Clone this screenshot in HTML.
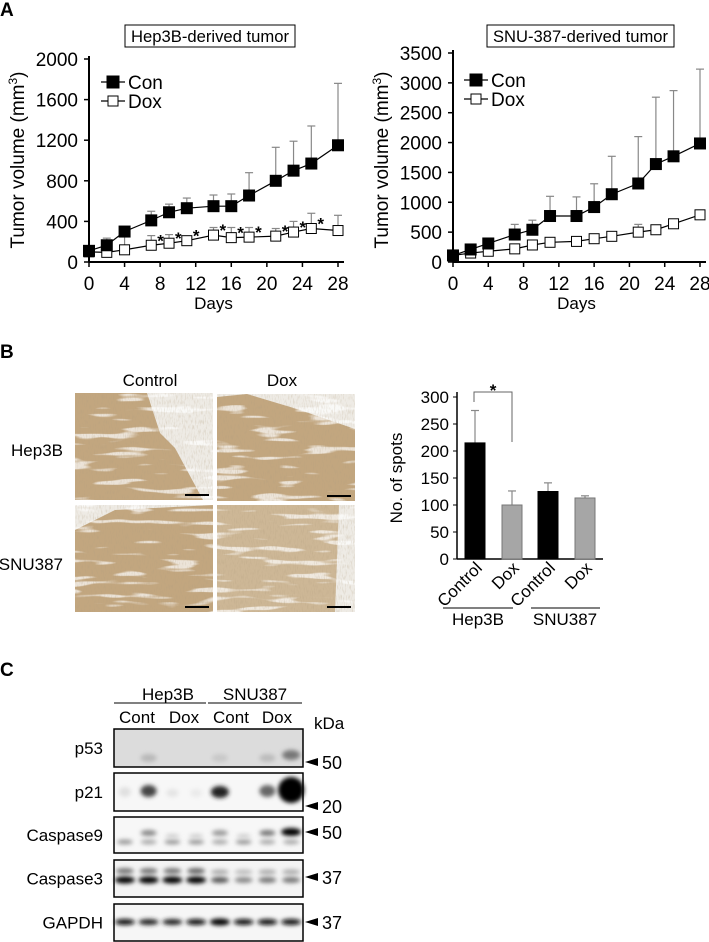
<!DOCTYPE html>
<html><head><meta charset="utf-8">
<style>
body{margin:0;background:#fff;}
svg{display:block;font-family:"Liberation Sans",Arial,sans-serif;}
</style></head>
<body>
<svg id="fig" width="709" height="942" viewBox="0 0 709 942" xmlns="http://www.w3.org/2000/svg">
<defs>
<filter id="blur" x="-50%" y="-100%" width="200%" height="300%"><feGaussianBlur stdDeviation="2.2"/></filter>
<filter id="noise" x="0" y="0" width="1" height="1"><feTurbulence type="fractalNoise" baseFrequency="0.9 0.2" numOctaves="2" seed="3"/><feColorMatrix type="matrix" values="0 0 0 0 0.45  0 0 0 0 0.35  0 0 0 0 0.22  0 0 0 -2.5 1.3"/></filter>
<filter id="streak" x="0" y="0" width="1" height="1"><feTurbulence type="fractalNoise" baseFrequency="0.02 0.15" numOctaves="2" seed="7"/><feColorMatrix type="matrix" values="0 0 0 0 1  0 0 0 0 1  0 0 0 0 1  0 0 0 9 -5.2"/></filter>
</defs>
<text x="0" y="16" font-size="19" font-weight="bold">A</text>
<text x="0" y="358" font-size="19" font-weight="bold">B</text>
<text x="0" y="676" font-size="19" font-weight="bold">C</text>
<g id="chartL"></g>
<g id="chartR"></g>
<g id="bars"></g>
<g id="micro"></g>
<g id="blot"></g>
</svg>
<script>
const days=[0,2,4,7,9,11,14,16,18,21,23,25,28];
const hepCon=[110,165,300,410,490,530,550,550,655,800,900,970,1150];
const hepConErr=[20,70,0,90,80,100,110,120,225,330,290,370,610];
const hepDox=[100,95,120,165,185,210,265,240,245,255,295,330,310];
const hepDoxErr=[15,45,130,95,85,30,75,100,95,75,105,150,150];
const hepStars=[0,0,0,1,1,1,1,1,1,1,1,1,0];
const snuCon=[110,210,310,460,540,770,770,920,1135,1315,1640,1770,1985];
const snuConErr=[20,40,60,170,160,330,320,390,635,785,1120,1100,1245];
const snuDox=[110,150,180,220,285,330,345,390,430,500,540,640,790];
const snuDoxErr=[10,20,20,30,30,60,40,70,30,130,40,40,20];
const hepYTicks=[0,400,800,1200,1600,2000];
const snuYTicks=[0,500,1000,1500,2000,2500,3000,3500];
const xTicks=[0,4,8,12,16,20,24,28];
const barCats=["Control","Dox","Control","Dox"];
const barVals=[215,100,125,113];
const barErrs=[60,26,16,4];
const barTicks=[0,50,100,150,200,250,300];
const NS="http://www.w3.org/2000/svg";
function mk(p,t,a,txt){const e=document.createElementNS(NS,t);for(const k in a)e.setAttribute(k,a[k]);if(txt!==undefined)e.textContent=txt;p.appendChild(e);return e;}

function lineChart(g,o){
  const sx=d=>o.x0+(o.x1-o.x0)*d/28, sy=v=>o.y0-(o.y0-o.y1)*v/o.ymax;
  const tb=mk(g,'rect',{x:o.tx,y:25,width:o.tw,height:22,fill:'#fff',stroke:'#000','stroke-width':1});
  
  const tt=mk(g,'text',{x:o.tx+o.tw/2,y:42,'font-size':17,'text-anchor':'middle',textLength:o.tw-12,lengthAdjust:'spacingAndGlyphs'},o.title);
  
  mk(g,'line',{x1:o.x0,y1:o.y1-3,x2:o.x0,y2:o.y0,stroke:'#000','stroke-width':2});
  mk(g,'line',{x1:o.x0,y1:o.y0,x2:o.x1+6,y2:o.y0,stroke:'#000','stroke-width':2});
  o.yt.forEach(v=>{mk(g,'line',{x1:o.x0-5,y1:sy(v),x2:o.x0,y2:sy(v),stroke:'#000','stroke-width':1.5});
    const t=mk(g,'text',{x:o.x0-11,y:sy(v)+7,'font-size':19,'text-anchor':'end'},v);
    });
  xTicks.forEach(v=>{mk(g,'line',{x1:sx(v),y1:o.y0,x2:sx(v),y2:o.y0+5,stroke:'#000','stroke-width':1.5});
    const t=mk(g,'text',{x:sx(v),y:o.y0+28,'font-size':19,'text-anchor':'middle'},v);
    });
  const xl=mk(g,'text',{x:(o.x0+o.x1)/2,y:o.y0+47,'font-size':17,'text-anchor':'middle'},'Days');
  
  const yl=mk(g,'text',{x:o.ylx,y:160,'font-size':19,'text-anchor':'middle',transform:`rotate(-90 ${o.ylx} 160)`});
  yl.innerHTML='Tumor volume (mm<tspan font-size="12" dy="-7">3</tspan><tspan dy="7">)</tspan>';
  
  [[o.con,o.conE],[o.dox,o.doxE]].forEach(([vals,errs])=>{
    days.forEach((d,i)=>{if(!errs[i])return;const x=sx(d);
      mk(g,'line',{x1:x,y1:sy(vals[i]),x2:x,y2:sy(vals[i]+errs[i]),stroke:'#888','stroke-width':1.2});
      mk(g,'line',{x1:x-4,y1:sy(vals[i]+errs[i]),x2:x+4,y2:sy(vals[i]+errs[i]),stroke:'#888','stroke-width':1.2});});});
  const pd=v=>days.map((d,i)=>sx(d)+','+sy(v[i])).join(' ');
  mk(g,'polyline',{points:pd(o.con),fill:'none',stroke:'#000','stroke-width':1.2});
  mk(g,'polyline',{points:pd(o.dox),fill:'none',stroke:'#000','stroke-width':1.2});
  days.forEach((d,i)=>{
    const r=mk(g,'rect',{x:sx(d)-5,y:sy(o.dox[i])-5,width:10,height:10,fill:'#fff',stroke:'#000','stroke-width':1});
    
    const c=mk(g,'rect',{x:sx(d)-6,y:sy(o.con[i])-6,width:12,height:12,fill:'#000'});
    
    if(o.stars&&o.stars[i]){const s=mk(g,'text',{x:sx(d)+6,y:sy(o.dox[i])+1,'font-size':17,'font-weight':'bold'},'*');
      }
  });
  [['Con','#000',o.ly],['Dox','#fff',o.ly+19]].forEach(([n,f,y])=>{
    const lg=mk(g,'g',{});
    mk(lg,'line',{x1:o.lx,y1:y,x2:o.lx+24,y2:y,stroke:'#000','stroke-width':1.2});
    mk(lg,'rect',{x:o.lx+12-(f=='#000'?6:5),y:y-(f=='#000'?6:5),width:f=='#000'?12:10,height:f=='#000'?12:10,fill:f,stroke:'#000'});
    mk(lg,'text',{x:o.lx+27,y:y+7,'font-size':19},n);});
}
lineChart(document.getElementById('chartL'),{x0:89,x1:338,y0:262,y1:59,ymax:2000,yt:hepYTicks,con:hepCon,conE:hepConErr,dox:hepDox,doxE:hepDoxErr,stars:hepStars,title:'Hep3B-derived tumor',tx:125,tw:170,ylx:24,lx:101,ly:82});
lineChart(document.getElementById('chartR'),{x0:453,x1:700,y0:262,y1:53,ymax:3500,yt:snuYTicks,con:snuCon,conE:snuConErr,dox:snuDox,doxE:snuDoxErr,stars:null,title:'SNU-387-derived tumor',tx:487,tw:187,ylx:388,lx:464,ly:80});

(function(){
  const g=document.getElementById('bars');const x0=457,y0=559,y1=397,ymax=300;
  const sy=v=>y0-(y0-y1)*v/ymax;const cx=[475,512,548,585];
  mk(g,'line',{x1:x0,y1:y1-5,x2:x0,y2:y0,stroke:'#000','stroke-width':1.5});
  mk(g,'line',{x1:x0,y1:y0,x2:603,y2:y0,stroke:'#000','stroke-width':1.5});
  barTicks.forEach(v=>{mk(g,'line',{x1:x0-4,y1:sy(v),x2:x0,y2:sy(v),stroke:'#000'});
    const t=mk(g,'text',{x:x0-8,y:sy(v)+6,'font-size':17,'text-anchor':'end'},v);
    });
  const yl=mk(g,'text',{x:402,y:478,'font-size':17,'text-anchor':'middle',transform:'rotate(-90 402 478)'},'No. of spots');
  
  barVals.forEach((v,i)=>{
    const top=sy(v+barErrs[i]);
    mk(g,'line',{x1:cx[i],y1:sy(v),x2:cx[i],y2:top,stroke:'#888','stroke-width':1.2});
    mk(g,'line',{x1:cx[i]-4,y1:top,x2:cx[i]+4,y2:top,stroke:'#888','stroke-width':1.2});
    const b=mk(g,'rect',{x:cx[i]-10,y:sy(v),width:20,height:y0-sy(v),fill:i%2?'#a6a6a6':'#000',stroke:i%2?'#777':'#000'});
    
    const t=mk(g,'text',{x:cx[i]+8,y:y0+10,'font-size':17,'text-anchor':'end',transform:`rotate(-45 ${cx[i]+8} ${y0+10})`},barCats[i]);
    
  });
  mk(g,'polyline',{points:'474,402 474,392 512,392 512,442',fill:'none',stroke:'#666','stroke-width':1});
  const s=mk(g,'text',{x:493,y:396,'font-size':17,'font-weight':'bold','text-anchor':'middle'},'*');
  
  mk(g,'line',{x1:443,y1:608,x2:513,y2:608,stroke:'#000'});
  mk(g,'line',{x1:531,y1:608,x2:600,y2:608,stroke:'#000'});
  const a=mk(g,'text',{x:478,y:625,'font-size':17,'text-anchor':'middle'},'Hep3B');
  const b=mk(g,'text',{x:565,y:625,'font-size':17,'text-anchor':'middle'},'SNU387');
})();

(function(){
  const g=document.getElementById('micro');
  const pos=[[75,393],[217,394],[75,505],[217,505]];
  pos.forEach(([x,y],i)=>{
    const p=mk(g,'g',{});
    mk(p,'rect',{x:x,y:y,width:138,height:107,fill:'#eeebe5'});
    let pts;
    if(i==0) pts=`${x},${y} ${x+72},${y} ${x+85},${y+40} ${x+100},${y+55} ${x+128},${y+107} ${x},${y+107}`;
    else if(i==1) pts=`${x},${y+3} ${x+30},${y} ${x+80},${y+15} ${x+138},${y+35} ${x+138},${y+107} ${x},${y+107}`;
    else if(i==2) pts=`${x},${y+25} ${x+40},${y+5} ${x+138},${y} ${x+138},${y+107} ${x},${y+107}`;
    else pts=`${x},${y} ${x+122},${y} ${x+118},${y+107} ${x},${y+107}`;
    mk(p,'polygon',{points:pts,fill:i==3?'#cdb796':'#c2a67f'});
    mk(p,'rect',{x:x,y:y,width:138,height:107,filter:'url(#streak)',opacity:0.7});
    mk(p,'rect',{x:x,y:y,width:138,height:107,filter:'url(#noise)',opacity:0.35});
    mk(p,'line',{x1:x+110,y1:y+102,x2:x+134,y2:y+102,stroke:'#000','stroke-width':2});
  });
  [['Control',150,386],['Dox',282,386]].forEach(([t,x,y])=>{const e=mk(g,'text',{x:x,y:y,'font-size':17,'text-anchor':'middle'},t);});
  [['Hep3B',63,456],['SNU387',63,570]].forEach(([t,x,y])=>{const e=mk(g,'text',{x:x,y:y,'font-size':17,'text-anchor':'end'},t);});
})();

(function(){
  const g=document.getElementById('blot');
  const lane=i=>113+(i+0.5)*23.75;
  [['Hep3B',168,114,206],['SNU387',255,208,302]].forEach(([t,x,a,b])=>{
    const e=mk(g,'text',{x:x,y:700,'font-size':17,'text-anchor':'middle'},t);
    mk(g,'line',{x1:a,y1:703,x2:b,y2:703,stroke:'#000'});});
  [['Cont',137],['Dox',184],['Cont',231],['Dox',277]].forEach(([t,x])=>{const e=mk(g,'text',{x:x,y:723,'font-size':17,'text-anchor':'middle'},t);});
  const k=mk(g,'text',{x:314,y:729,'font-size':17},'kDa');
  const rows=[['p53',729,38,'#dcdcdc',762,'50'],['p21',773,38,'#f7f7f7',806,'20'],['Caspase9',817,36,'#f7f7f7',832,'50'],['Caspase3',860,37,'#f4f4f4',877,'37'],['GAPDH',904,37,'#f6f6f6',922,'37']];
  const bands=[
   [[1,758,'#b8b8b8',8,4],[4,758,'#c8c8c8',8,4],[6,758,'#bbb',8,4],[7,755,'#777',9,5]],
   [[0,792,'#e0e0e0',6,5],[1,791,'#444',8,6],[2,793,'#e4e4e4',6,4],[3,793,'#eaeaea',6,4],[4,792,'#222',9,6],[6,791,'#666',8,6],[7,790,'#000',13,13]],
   [[1,833,'#888',8,3],[4,833,'#999',8,3],[6,833,'#777',8,3],[7,832,'#000',10,4],
    [0,842,'#999',8,2.5],[1,842,'#aaa',8,2.5],[2,842,'#999',8,2.5],[3,842,'#999',8,2.5],[4,842,'#aaa',8,2.5],[5,842,'#999',8,2.5],[6,842,'#aaa',8,2.5],[7,842,'#aaa',8,2.5],[2,836,'#ccc',7,2],[3,836,'#ccc',7,2],[5,836,'#ccc',7,2]],
   [[0,871,'#777',9,3],[1,871,'#777',9,3],[2,871,'#777',9,3],[3,871,'#666',9,3],[4,872,'#aaa',9,2.5],[5,872,'#bbb',9,2.5],[6,872,'#aaa',9,2.5],[7,872,'#aaa',9,2.5],
    [0,880,'#000',10,3.5],[1,880,'#000',10,3.5],[2,880,'#000',10,3.5],[3,880,'#000',10,3.5],[4,880,'#555',9,3],[5,880,'#888',9,3],[6,880,'#777',9,3],[7,880,'#777',9,3]],
   [[0,922,'#111',10,3],[1,922,'#222',10,3],[2,922,'#222',10,3],[3,922,'#111',10,3],[4,922,'#000',10,3.5],[5,922,'#111',10,3],[6,922,'#111',10,3],[7,922,'#111',10,3]]
  ];
  rows.forEach(([n,y,h,bg,ay,kd],r)=>{
    const p=mk(g,'g',{});
    mk(p,'rect',{x:114,y:y,width:189,height:h,fill:bg});
    bands[r].forEach(([l,by,c,rx,ry])=>mk(p,'ellipse',{cx:lane(l),cy:by,rx:rx,ry:ry,fill:c,filter:'url(#blur)'}));
    mk(p,'rect',{x:114,y:y,width:189,height:h,fill:'none',stroke:'#000','stroke-width':1.5});
    const t=mk(g,'text',{x:103,y:y+h/2+6,'font-size':17,'text-anchor':'end'},n);
    mk(g,'polygon',{points:`305,${ay} 318,${ay-4} 318,${ay+4}`,fill:'#000'});
    const m=mk(g,'text',{x:322,y:ay+7,'font-size':18},kd);
  });
})();
</script>
</body></html>
